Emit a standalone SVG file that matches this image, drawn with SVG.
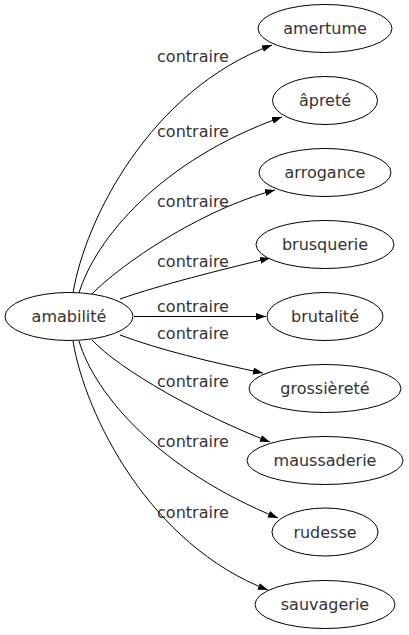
<svg xmlns="http://www.w3.org/2000/svg" width="409" height="635" viewBox="0 0 409 635">
<style>
.n ellipse{fill:#fff;stroke:#000;stroke-width:1}
text{font-family:"DejaVu Sans",sans-serif;font-size:16px;fill:#333;text-anchor:middle}
.e path{fill:none;stroke:#000;stroke-width:1;marker-end:url(#ah)}
</style>
<defs>
<marker id="ah" markerUnits="userSpaceOnUse" markerWidth="11" markerHeight="8" refX="10" refY="3.5" orient="auto">
<path d="M0,0 L10,3.5 L0,7 z" fill="#000"/>
</marker>
</defs>
<g id="edges" class="e">
<path d="M73,293 C85,220 150,90 272,45"/>
<path d="M79,293 C95,240 160,160 282,117"/>
<path d="M92,294 C120,265 200,210 275,190"/>
<path d="M120,299 C160,285 220,270 270,258"/>
<path d="M134,316.5 L266,316.5"/>
<path d="M120,335 C160,350 210,362 263,373"/>
<path d="M92,340 C120,370 200,415 270,442"/>
<path d="M79,341 C95,395 160,470 278,518"/>
<path d="M73,341 C85,415 150,545 268,590"/>
</g>
<g id="labels">
<text x="193" y="62">contraire</text>
<text x="193" y="137">contraire</text>
<text x="193" y="207">contraire</text>
<text x="193" y="267">contraire</text>
<text x="193" y="312">contraire</text>
<text x="193" y="339">contraire</text>
<text x="193" y="387">contraire</text>
<text x="193" y="447">contraire</text>
<text x="193" y="518">contraire</text>
</g>
<g id="amabilite" class="n"><ellipse cx="69" cy="316.5" rx="64" ry="24"/><text x="69" y="322">amabilité</text></g>
<g id="amertume" class="n"><ellipse cx="325" cy="28.5" rx="67" ry="24"/><text x="325" y="34">amertume</text></g>
<g id="aprete" class="n"><ellipse cx="325" cy="100.5" rx="52.5" ry="24"/><text x="325" y="106">âpreté</text></g>
<g id="arrogance" class="n"><ellipse cx="325" cy="172.5" rx="66" ry="24"/><text x="325" y="178">arrogance</text></g>
<g id="brusquerie" class="n"><ellipse cx="325" cy="244.5" rx="69" ry="24"/><text x="325" y="250">brusquerie</text></g>
<g id="brutalite" class="n"><ellipse cx="325" cy="316.5" rx="58" ry="24"/><text x="325" y="322">brutalité</text></g>
<g id="grossierete" class="n"><ellipse cx="325" cy="388.5" rx="76" ry="24"/><text x="325" y="394">grossièreté</text></g>
<g id="maussaderie" class="n"><ellipse cx="325" cy="460.5" rx="78" ry="24"/><text x="325" y="466">maussaderie</text></g>
<g id="rudesse" class="n"><ellipse cx="325" cy="532" rx="53" ry="24"/><text x="325" y="537.5">rudesse</text></g>
<g id="sauvagerie" class="n"><ellipse cx="325" cy="604.5" rx="70" ry="24"/><text x="325" y="610">sauvagerie</text></g>
</svg>
